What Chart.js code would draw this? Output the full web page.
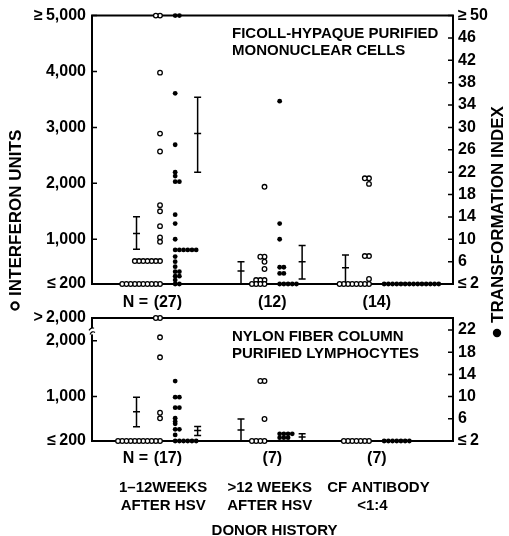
<!DOCTYPE html>
<html><head><meta charset="utf-8">
<script src="https://cdn.jsdelivr.net/npm/chart.js@4.4.1/dist/chart.umd.min.js"></script>
<style>
html,body{margin:0;padding:0;background:#fff;}
#wrap{position:relative;width:509px;height:536px;overflow:hidden;}
canvas{position:absolute;left:0;top:0;}
</style></head>
<body><div id="wrap"><canvas id="cTop" width="509" height="536"></canvas><canvas id="cBot" width="509" height="536"></canvas></div>
<script>
// ---------------- data ----------------
const groupLines = [["1–12WEEKS","AFTER HSV"],[">12 WEEKS","AFTER HSV"],["CF ANTIBODY","<1:4"]];
const xTitle = "DONOR HISTORY";
const yLeftTitle = "INTERFERON UNITS";
const yRightTitle = "TRANSFORMATION INDEX";
const topTitle = ["FICOLL-HYPAQUE PURIFIED","MONONUCLEAR CELLS"];
const botTitle = ["NYLON FIBER COLUMN","PURIFIED LYMPHOCYTES"];
const topN = [27,12,14];
const botN = [17,7,7];

const topIfnTicks = [200,1000,2000,3000,4000,5000];
const topIfnTickLabels = ["≤\u2009200","1,000","2,000","3,000","4,000","≥\u20095,000"];
const topTiTicks = [2,6,10,14,18,22,26,30,34,38,42,46,50];
const topTiTickLabels = ["≤\u20092","6","10","14","18","22","26","30","34","38","42","46","≥\u200950"];
const botIfnTicks = [200,1000,2000,2410];
const botIfnTickLabels = ["≤\u2009200","1,000","2,000",">\u20092,000"];
const botTiTicks = [2,6,10,14,18,22];
const botTiTickLabels = ["≤\u20092","6","10","14","18","22"];

// Ficoll-Hypaque purified mononuclear cells (values per donor)
const topIfnG1 = [5000,5000,3980,2890,2570,1610,1500,1235,1033,955,610,610,610,610,610,610,610,200,200,200,200,200,200,200,200,200,200];
const topIfnG2 = [1938,687,687,598,468,271,271,271,200,200,200,200];
const topIfnG3 = [2090,2090,1990,700,700,289,200,200,200,200,200,200,200,200];
const topTiG1 = [50,50,36.1,26.9,22,21.3,20.3,20.3,14.4,12.8,10,8.1,8.1,8.1,8.1,8.1,8.1,6.9,6,5.1,4.2,4.2,3.4,3.4,2.7,2,2];
const topTiG2 = [34.7,12.8,10,5,5,3.9,3.9,2,2,2,2,2];
const topTiG3 = [2,2,2,2,2,2,2,2,2,2,2,2,2,2];
// mean and error bars: [low, mean, high]
const topIfnErr = [[820,1105,1402],[200,432,598],[200,491,718]];
const topTiErr = [[22,28.9,35.4],[2.9,6,8.9],null];

// Nylon fiber column purified lymphocytes (2410 = "> 2,000")
const botIfnG1 = [2410,2410,2063,1704,708,608,200,200,200,200,200,200,200,200,200,200,200];
const botIfnG2 = [1278,1278,595,200,200,200,200];
const botIfnG3 = [200,200,200,200,200,200,200];
const botTiG1 = [12.8,9.9,9.9,8,8,6.1,5.5,5.1,4.1,4.1,3.1,2,2,2,2,2,2];
const botTiG2 = [3.3,3.3,3.3,3.3,2.6,2.6,2.6];
const botTiG3 = [2,2,2,2,2,2,2];
const botIfnErr = [[457,726,985],[200,398,595],null];
const botTiErr = [[3.0,3.9,4.6],[2.0,2.7,3.3],null];

// ---------------- layout / style ----------------
const FONT = '"Liberation Sans", Arial, Helvetica, sans-serif';
const X_MIN = -0.651, X_MAX = 2.804;
const STEP = 0.0402;
const TI_COL = 0.145, TI_ERR = 0.36, IFN_ERR = -0.225, N_OFF = 0.075;
const LBL_OFF = [0.03, 0.05, 0.09];

function buildPoints(groupVals, off, dir) {
  const out = [];
  groupVals.forEach((vals, gi) => {
    const seen = new Map();
    vals.forEach(v => {
      const k = seen.get(v) || 0; seen.set(v, k + 1);
      out.push({x: gi + off + dir * k * STEP, y: v});
    });
  });
  return out;
}

function drawErr(ctx, xs, ys, xv, e) {
  const x = xs.getPixelForValue(xv);
  const lo = ys.getPixelForValue(e[0]), m = ys.getPixelForValue(e[1]), hi = ys.getPixelForValue(e[2]);
  ctx.beginPath();
  ctx.moveTo(x, lo); ctx.lineTo(x, hi);
  ctx.moveTo(x - 3.5, hi); ctx.lineTo(x + 3.5, hi);
  ctx.moveTo(x - 3.5, lo); ctx.lineTo(x + 3.5, lo);
  ctx.moveTo(x - 3.5, m); ctx.lineTo(x + 3.5, m);
  ctx.stroke();
}

function makePlugin(cfg) {
  return {
    id: 'panel',
    beforeDatasetsDraw(chart) {
      const ctx = chart.ctx, a = chart.chartArea;
      const xs = chart.scales.x, yL = chart.scales.yL, yR = chart.scales.yR;
      ctx.save();
      ctx.strokeStyle = '#000';
      ctx.lineWidth = 2;
      ctx.beginPath();
      ctx.moveTo(a.left - 1, a.top); ctx.lineTo(a.right + 1, a.top);
      ctx.moveTo(a.left - 1, a.bottom); ctx.lineTo(a.right + 1, a.bottom);
      ctx.stroke();
      ctx.lineWidth = 1.5;
      ctx.beginPath();
      yL.ticks.forEach(t => { const y = yL.getPixelForValue(t.value); ctx.moveTo(a.left, y); ctx.lineTo(a.left + 5, y); });
      yR.ticks.forEach(t => { const y = yR.getPixelForValue(t.value); ctx.moveTo(a.right, y); ctx.lineTo(a.right - 5, y); });
      ctx.stroke();
      if (cfg.brk) {
        const y = (yL.getPixelForValue(2000) + a.top) / 2 + 2;
        ctx.fillStyle = '#fff';
        ctx.fillRect(a.left - 3, y - 3, 6, 6);
        ctx.lineWidth = 1.2;
        ctx.beginPath();
        ctx.moveTo(a.left - 3, y - 1); ctx.quadraticCurveTo(a.left, y - 5, a.left + 2, y - 3);
        ctx.moveTo(a.left - 2, y + 3); ctx.quadraticCurveTo(a.left, y - 1, a.left + 3, y + 1);
        ctx.stroke();
      }
      ctx.lineWidth = 1.5;
      cfg.ifnErr.forEach((e, gi) => { if (e) drawErr(ctx, xs, yL, gi + IFN_ERR, e); });
      cfg.tiErr.forEach((e, gi) => { if (e) drawErr(ctx, xs, yR, gi + TI_ERR, e); });
      ctx.restore();
    },
    afterDraw(chart) {
      const ctx = chart.ctx, a = chart.chartArea, xs = chart.scales.x;
      ctx.save();
      ctx.fillStyle = '#000';
      ctx.textBaseline = 'alphabetic';
      // N labels
      ctx.font = 'bold 16px ' + FONT;
      cfg.n.forEach((n, gi) => {
        const cx = xs.getPixelForValue(gi + N_OFF);
        ctx.textAlign = 'center';
        const s = '(' + n + ')';
        ctx.fillText(s, cx, cfg.nY);
        if (gi === 0) {
          ctx.textAlign = 'right';
          ctx.fillText('N = ', cx - ctx.measureText(s).width / 2 - 1, cfg.nY);
        }
      });
      // panel title
      ctx.font = 'bold 15px ' + FONT;
      ctx.textAlign = 'left';
      cfg.title.forEach((t, i) => ctx.fillText(t, 232, cfg.titleY[i]));
      if (cfg.bottomLabels) {
        ctx.font = 'bold 15px ' + FONT;
        ctx.textAlign = 'center';
        groupLines.forEach((lines, gi) => {
          const cx = xs.getPixelForValue(gi + LBL_OFF[gi]);
          ctx.fillText(lines[0], cx, 492);
          ctx.fillText(lines[1], cx - (gi === 2 ? 6 : 0), 510);
        });
        ctx.font = 'bold 15px ' + FONT;
        ctx.fillText(xTitle, (a.left + a.right) / 2 + 2, 535);
      }
      if (cfg.axisTitles) {
        ctx.font = 'bold 17px ' + FONT;
        // left title (reads bottom to top)
        ctx.save();
        ctx.translate(21, 296);
        ctx.rotate(-Math.PI / 2);
        ctx.textAlign = 'left';
        ctx.fillText(yLeftTitle, 0, 0);
        ctx.restore();
        ctx.lineWidth = 2.2; ctx.strokeStyle = '#000';
        ctx.beginPath(); ctx.arc(15, 306, 3.6, 0, Math.PI * 2); ctx.stroke();
        // right title
        ctx.save();
        ctx.translate(503, 323);
        ctx.rotate(-Math.PI / 2);
        ctx.textAlign = 'left';
        ctx.fillText(yRightTitle, 0, 0);
        ctx.restore();
        ctx.beginPath(); ctx.arc(497, 333, 4.2, 0, Math.PI * 2); ctx.fill();
      }
      ctx.restore();
    }
  };
}

function yScale(pos, min, max, ticks, labels, width) {
  return {
    type: 'linear', position: pos, min: min, max: max,
    afterFit(s) { s.width = width; },
    afterBuildTicks(s) { s.ticks = ticks.map(v => ({value: v})); },
    ticks: {
      autoSkip: false, padding: pos === 'left' ? 6 : 5, color: '#000',
      font: {family: FONT, size: 16, weight: 'bold'},
      callback: (v, i) => labels[i]
    },
    grid: {display: false, drawTicks: false},
    border: {display: true, color: '#000', width: 2}
  };
}

function makePanel(id, cfg) {
  return new Chart(document.getElementById(id), {
    type: 'scatter',
    data: {
      datasets: [
        {label: 'Interferon units', data: buildPoints(cfg.ifn, 0, -1), xAxisID: 'x', yAxisID: 'yL',
         pointRadius: 2.3, pointBorderWidth: 1.3, pointBackgroundColor: '#fff', pointBorderColor: '#000', clip: false},
        {label: 'Transformation index', data: buildPoints(cfg.ti, TI_COL, 1), xAxisID: 'x', yAxisID: 'yR',
         pointRadius: 2.4, pointBorderWidth: 0, pointBackgroundColor: '#000', pointBorderColor: '#000', clip: false}
      ]
    },
    options: {
      responsive: false, animation: false, devicePixelRatio: 1, events: [],
      layout: {padding: {top: cfg.top, bottom: 536 - cfg.bottom, left: 0, right: 0}},
      plugins: {legend: {display: false}, tooltip: {enabled: false}},
      scales: {
        x: {type: 'linear', display: false, min: X_MIN, max: X_MAX},
        yL: yScale('left', cfg.ifnMin, cfg.ifnMax, cfg.ifnTicks, cfg.ifnLabels, 92),
        yR: yScale('right', cfg.tiMin, cfg.tiMax, cfg.tiTicks, cfg.tiLabels, 56)
      }
    },
    plugins: [makePlugin(cfg)]
  });
}

makePanel('cTop', {
  top: 15, bottom: 284,
  ifn: [topIfnG1, topIfnG2, topIfnG3], ti: [topTiG1, topTiG2, topTiG3],
  ifnErr: topIfnErr, tiErr: topTiErr,
  ifnMin: 200, ifnMax: 5000, ifnTicks: topIfnTicks, ifnLabels: topIfnTickLabels,
  tiMin: 2, tiMax: 50, tiTicks: topTiTicks, tiLabels: topTiTickLabels,
  n: topN, nY: 307, title: topTitle, titleY: [38, 55], axisTitles: true
});
makePanel('cBot', {
  top: 318, bottom: 441,
  ifn: [botIfnG1, botIfnG2, botIfnG3], ti: [botTiG1, botTiG2, botTiG3],
  ifnErr: botIfnErr, tiErr: botTiErr,
  ifnMin: 200, ifnMax: 2410, ifnTicks: botIfnTicks, ifnLabels: botIfnTickLabels,
  tiMin: 2, tiMax: 24.16, tiTicks: botTiTicks, tiLabels: botTiTickLabels,
  n: botN, nY: 463, title: botTitle, titleY: [341, 358], bottomLabels: true, brk: true
});
</script>
</body></html>
